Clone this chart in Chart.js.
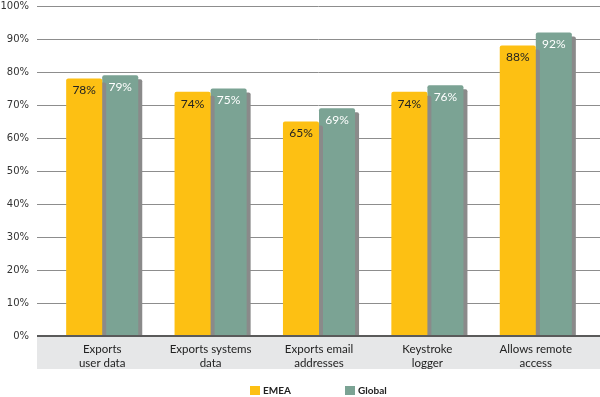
<!DOCTYPE html>
<html>
<head>
<meta charset="utf-8">
<script src="https://cdn.jsdelivr.net/npm/chart.js@4/dist/chart.umd.min.js"></script>
<style>
  html, body { margin: 0; padding: 0; background: #fff; }
  #c { display: block; }
</style>
</head>
<body>
<canvas id="c" width="600" height="397"></canvas>
<script>
const categories = [
  ["Exports", "user data"],
  ["Exports systems", "data"],
  ["Exports email", "addresses"],
  ["Keystroke", "logger"],
  ["Allows remote", "access"]
];
const seriesNames = ["EMEA", "Global"];
const emeaValues = [78, 74, 65, 74, 88];
const globalValues = [79, 75, 69, 76, 92];
const yTicks = [0, 10, 20, 30, 40, 50, 60, 70, 80, 90, 100];

const COLORS = ["#FDC013", "#7BA394"];
const BAND_LEFT = 37;

const decorPlugin = {
  id: 'decor',
  beforeDatasetsDraw(chart) {
    const ctx = chart.ctx;
    const y = chart.scales.y;
    const W = chart.width;
    ctx.save();
    ctx.strokeStyle = '#8d8d8d';
    ctx.lineWidth = 1;
    yTicks.forEach(v => {
      if (v === 0) return;
      const py = Math.round(y.getPixelForValue(v)) + 0.5;
      ctx.beginPath();
      ctx.moveTo(BAND_LEFT, py);
      ctx.lineTo(W, py);
      ctx.stroke();
    });
    ctx.restore();
    ctx.save();
    ctx.shadowColor = '#8a8a8a';
    ctx.shadowOffsetX = 4;
    ctx.shadowOffsetY = 4;
    ctx.shadowBlur = 0;
  },
  afterDatasetsDraw(chart) {
    const ctx = chart.ctx;
    ctx.restore();
    const y = chart.scales.y;
    const W = chart.width;
    const base = y.getPixelForValue(0);
    ctx.save();
    ctx.fillStyle = '#e6e7e8';
    ctx.fillRect(BAND_LEFT, base, W - BAND_LEFT, 33);
    ctx.strokeStyle = '#5a5a5a';
    ctx.lineWidth = 2;
    ctx.beginPath();
    ctx.moveTo(BAND_LEFT, base);
    ctx.lineTo(W, base);
    ctx.stroke();
    ctx.font = '12px Lato';
    ctx.textAlign = 'center';
    ctx.textBaseline = 'middle';
    chart.data.datasets.forEach((ds, di) => {
      const meta = chart.getDatasetMeta(di);
      meta.data.forEach((bar, i) => {
        ctx.fillStyle = di === 0 ? '#222222' : '#ffffff';
        ctx.fillText(ds.data[i] + '%', bar.x, bar.y + 12);
      });
    });
    const legendItems = [{x: 250}, {x: 345}];
    ctx.font = 'bold 10px Lato';
    ctx.textAlign = 'left';
    chart.data.datasets.forEach((ds, di) => {
      const lx = legendItems[di].x;
      ctx.fillStyle = ds.backgroundColor;
      ctx.fillRect(lx, 386, 10, 9);
      ctx.fillStyle = '#222222';
      ctx.fillText(ds.label, lx + 13, 391);
    });
    ctx.restore();
  }
};

new Chart(document.getElementById('c'), {
  type: 'bar',
  data: {
    labels: categories,
    datasets: [
      { label: seriesNames[0], data: emeaValues, backgroundColor: COLORS[0],
        borderRadius: {topLeft: 2, topRight: 2}, borderSkipped: 'bottom' },
      { label: seriesNames[1], data: globalValues, backgroundColor: COLORS[1],
        borderRadius: {topLeft: 2, topRight: 2}, borderSkipped: 'bottom' }
    ]
  },
  options: {
    responsive: false,
    animation: false,
    devicePixelRatio: 1,
    layout: { padding: { left: 0, right: 10, top: 1, bottom: 28 } },
    datasets: { bar: { barPercentage: 1, categoryPercentage: 0.665 } },
    plugins: { legend: { display: false }, tooltip: { enabled: false } },
    scales: {
      x: {
        grid: { display: false, drawTicks: false },
        border: { display: false },
        afterFit(s) { s.height = 33; },
        ticks: { z: 1, font: { family: 'Lato', size: 11.5, lineHeight: 1.15 }, color: '#222222', padding: 7, maxRotation: 0, autoSkip: false }
      },
      y: {
        min: 0, max: 100,
        grid: { display: false, drawTicks: false },
        border: { display: false },
        afterFit(s) { s.width = 48; s.paddingTop = 6; s.paddingBottom = 6; },
        afterBuildTicks(scale) { scale.ticks = yTicks.map(v => ({ value: v })); },
        ticks: { font: { family: 'DejaVu Sans', size: 10 }, color: '#333333', padding: 19,
                 callback: v => v + '%' }
      }
    }
  },
  plugins: [decorPlugin]
});
</script>
</body>
</html>
